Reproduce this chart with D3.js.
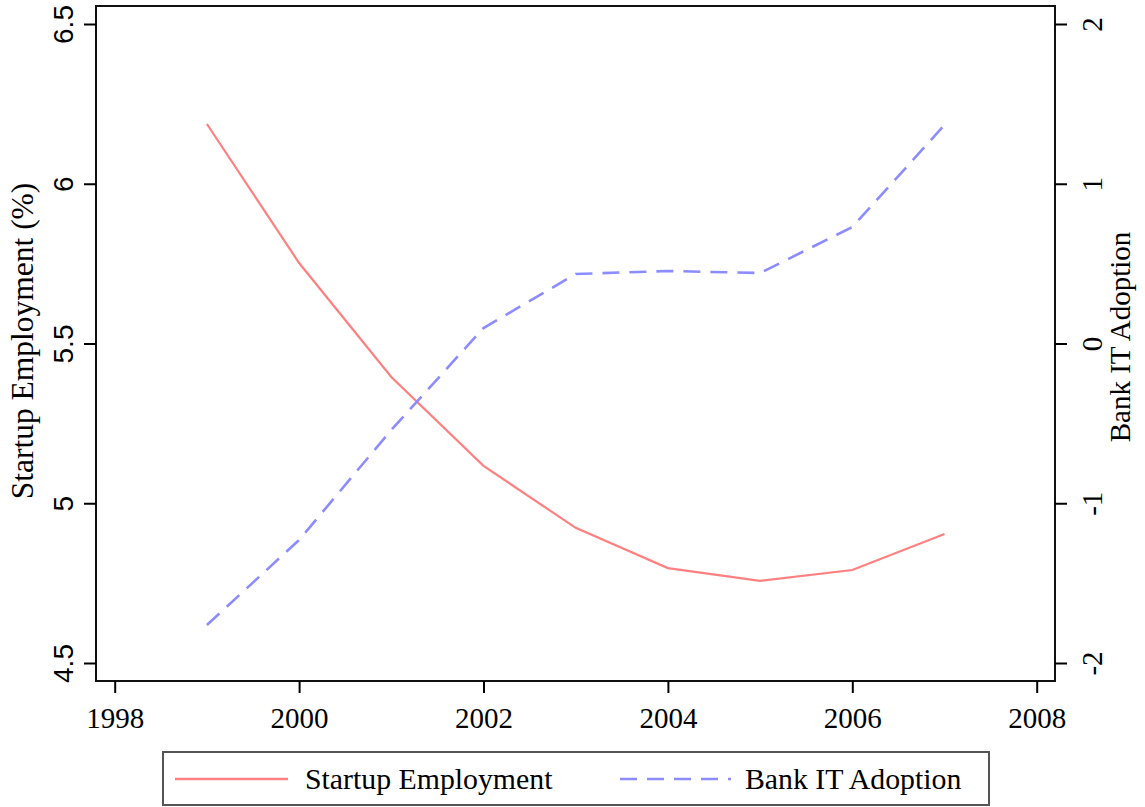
<!DOCTYPE html>
<html><head><meta charset="utf-8">
<script src="https://cdn.jsdelivr.net/npm/d3@7"></script>
<style>body{margin:0;background:#fff}svg{display:block}text{font-family:"Liberation Serif","Times New Roman",serif;fill:#000}</style>
</head><body>
<svg id="c" width="1145" height="807"></svg>
<script>
const years = [1999, 2000, 2001, 2002, 2003, 2004, 2005, 2006, 2007];
const startupEmployment = [6.187, 5.752, 5.395, 5.117, 4.923, 4.797, 4.757, 4.791, 4.904];
const bankITAdoption = [-1.762, -1.230, -0.541, 0.097, 0.435, 0.454, 0.441, 0.729, 1.368];
const xTicks = [1998, 2000, 2002, 2004, 2006, 2008];
const leftTicks = [4.5, 5, 5.5, 6, 6.5];
const rightTicks = [-2, -1, 0, 1, 2];
const seriesNames = ["Startup Employment", "Bank IT Adoption"];

const svg = d3.select("#c");
const L = 96, R = 1055, T = 6, B = 681;
const x = d3.scaleLinear().domain([1998, 2008]).range([114.7, 1036.7]);
const yL = d3.scaleLinear().domain([4.5, 6.5]).range([663, 24]);
const yR = d3.scaleLinear().domain([-2, 2]).range([663, 24]);
const red = "#ff8080", blue = "#8c8cff";
const FS = 29;

// frame
svg.append("rect").attr("x", L).attr("y", T).attr("width", R - L).attr("height", B - T)
  .attr("fill", "none").attr("stroke", "#111").attr("stroke-width", 2);

// x axis
const gx = svg.append("g").attr("transform", `translate(0,${B})`)
  .call(d3.axisBottom(x).tickValues(xTicks).tickFormat(d3.format("d")).tickSize(12).tickPadding(0).tickSizeOuter(0));
gx.select(".domain").remove();
gx.selectAll("line").attr("stroke", "#000").attr("stroke-width", 2);
gx.selectAll("text").attr("font-size", FS).attr("dy", null).attr("y", 47)
  .style("font-family", '"Liberation Serif",serif');

// left axis
const gl = svg.append("g").attr("transform", `translate(${L},0)`)
  .call(d3.axisLeft(yL).tickValues(leftTicks).tickFormat(d => String(d)).tickSize(12).tickSizeOuter(0));
gl.select(".domain").remove();
gl.selectAll("line").attr("stroke", "#000").attr("stroke-width", 2);
gl.selectAll("text").attr("font-size", 28).attr("x", null).attr("dy", null)
  .attr("text-anchor", "middle").attr("transform", `translate(-23,0) rotate(-90)`)
  .style("font-family", '"Liberation Sans",Arial,sans-serif');

// right axis
const gr = svg.append("g").attr("transform", `translate(${R},0)`)
  .call(d3.axisRight(yR).tickValues(rightTicks).tickFormat(d => String(d)).tickSize(12).tickSizeOuter(0));
gr.select(".domain").remove();
gr.selectAll("line").attr("stroke", "#000").attr("stroke-width", 2);
gr.selectAll("text").attr("font-size", FS).attr("x", null).attr("dy", null)
  .attr("text-anchor", "middle").attr("transform", `translate(47,0) rotate(-90)`)
  .style("font-family", '"Liberation Serif",serif');

// axis titles
svg.append("text").attr("transform", "translate(33,341) rotate(-90)").attr("text-anchor", "middle")
  .attr("font-size", 31.5).text("Startup Employment (%)");
svg.append("text").attr("transform", "translate(1130,337) rotate(-90)").attr("text-anchor", "middle")
  .attr("font-size", FS).text("Bank IT Adoption");

// lines
const lineL = d3.line().x((d, i) => x(years[i])).y(d => yL(d));
const lineR = d3.line().x((d, i) => x(years[i])).y(d => yR(d));
svg.append("path").attr("d", lineL(startupEmployment)).attr("fill", "none")
  .attr("stroke", red).attr("stroke-width", 2.2);
svg.append("path").attr("d", lineR(bankITAdoption)).attr("fill", "none")
  .attr("stroke", blue).attr("stroke-width", 2.6).attr("stroke-dasharray", "17,10");

// legend
const lg = svg.append("g");
lg.append("rect").attr("x", 163).attr("y", 752).attr("width", 826).attr("height", 53)
  .attr("fill", "#fff").attr("stroke", "#555").attr("stroke-width", 2);
lg.append("line").attr("x1", 175).attr("x2", 288).attr("y1", 779).attr("y2", 779)
  .attr("stroke", red).attr("stroke-width", 2.6);
lg.append("text").attr("x", 305).attr("y", 789).attr("font-size", 29.8).text(seriesNames[0]);
lg.append("line").attr("x1", 620).attr("x2", 731).attr("y1", 779).attr("y2", 779)
  .attr("stroke", blue).attr("stroke-width", 2.6).attr("stroke-dasharray", "17,10");
lg.append("text").attr("x", 745).attr("y", 789).attr("font-size", 29.8).text(seriesNames[1]);
</script>
</body></html>
